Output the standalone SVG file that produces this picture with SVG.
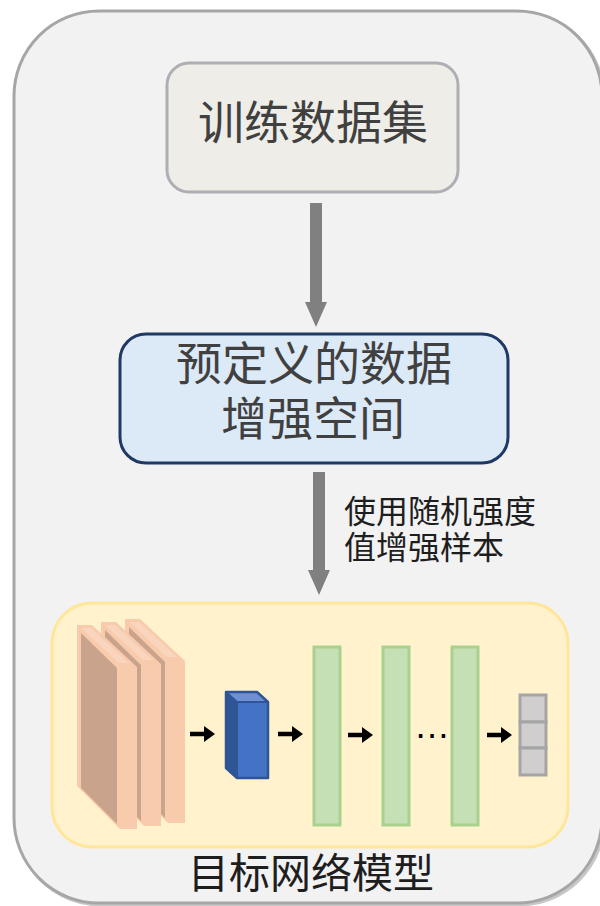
<svg xmlns="http://www.w3.org/2000/svg" width="600" height="906" viewBox="0 0 600 906">
  <style>
    .cjk { font-family: "Noto Sans CJK SC", "Noto Sans", sans-serif; }
    .boxtxt { font-size: 46px; fill: #404040; text-anchor: middle; }
    .lbl { font-size: 32px; fill: #1e1e1e; }
    .cap { font-size: 41px; fill: #1e1e1e; text-anchor: middle; }
    .bigarrow { fill: #808080; }
    .smallarrow { fill: #000000; }
    .slab-front { fill: #f8cbad; }
    .slab-side { fill: #c9a38b; }
    .slab-top { fill: #fad5be; }
    .green { fill: #c5e0b4; stroke: #a9d18e; stroke-width: 3; }
    .grey { fill: #d0cece; stroke: #a5a5a5; stroke-width: 3; }
  </style>
  <defs>
    <g id="slab">
      <polygon class="slab-front" points="0,0 15,0 60,42 60,204 43,204 0,161"/>
      <polygon class="slab-side" points="4,8 40,43 40,199 4,163"/>
      <polygon class="slab-top" points="4,3 14,3 52,38 42,38"/>
    </g>
    <g id="sarrow">
      <polygon class="smallarrow" points="0,-2.2 14,-2.2 14,-8 25,0 14,8 14,2.2 0,2.2"/>
    </g>
  </defs>

  <g id="container">
    <rect x="16" y="13" width="588" height="892" rx="85" fill="none" stroke="#c8c8c8" stroke-width="3"/>
    <rect x="14" y="11" width="588" height="892" rx="85" fill="#f2f2f2" stroke="#a6a6a6" stroke-width="3"/>
  </g>

  <g id="training-set">
    <rect x="167" y="63" width="291" height="129" rx="22" fill="#eeede7" stroke="#aeaeb4" stroke-width="3"/>
    <text class="cjk boxtxt" x="313" y="139">训练数据集</text>
  </g>

  <g id="aug-space">
    <rect x="120" y="334" width="388" height="129" rx="26" fill="#dce9f6" stroke="#1f3864" stroke-width="3"/>
    <text class="cjk boxtxt" x="314" y="380">预定义的数据</text>
    <text class="cjk boxtxt" x="313" y="435">增强空间</text>
  </g>

  <g id="aug-label">
    <text class="cjk lbl" x="344" y="523">使用随机强度</text>
    <text class="cjk lbl" x="344" y="559">值增强样本</text>
  </g>

  <g id="target-model">
    <rect x="52" y="603" width="516" height="244" rx="40" fill="#fff2cc" stroke="#ffe699" stroke-width="3"/>
    <g id="input-slabs">
      <use href="#slab" x="125" y="619"/>
      <use href="#slab" x="101" y="622"/>
      <use href="#slab" x="77" y="625"/>
    </g>
    <g id="conv-block">
      <polygon points="226,692 237,702 237,778 226,768" fill="#2f5597"/>
      <polygon points="226,692 257,692 268,702 237,702" fill="#6f8fd3"/>
      <polygon points="237,702 268,702 268,778 237,778" fill="#4472c4"/>
      <polygon points="226,692 257,692 268,702 268,778 237,778 226,768" fill="none" stroke="#2f5597" stroke-width="2.5" stroke-linejoin="round"/>
      <polyline points="226,692 237,702 268,702 M237,702" fill="none" stroke="#2f5597" stroke-width="2"/>
      <line x1="237" y1="702" x2="237" y2="778" stroke="#2f5597" stroke-width="2"/>
    </g>
    <g id="fc1"><rect class="green" x="314" y="647" width="26" height="178"/></g>
    <g id="fc2"><rect class="green" x="383" y="647" width="26" height="178"/></g>
    <g id="fc3"><rect class="green" x="452" y="647" width="26" height="178"/></g>
    <text x="432" y="738" font-family="Liberation Sans, Arial, sans-serif" font-size="36" fill="#000" text-anchor="middle">…</text>
    <g id="output">
      <rect class="grey" x="520" y="695" width="26" height="27"/>
      <rect class="grey" x="520" y="722" width="26" height="26"/>
      <rect class="grey" x="520" y="748" width="26" height="27"/>
    </g>
    <text class="cjk cap" x="311" y="888">目标网络模型</text>
  </g>

  <g id="connectors">
    <polygon class="bigarrow" points="310,203 322,203 322,302 327,302 316,327 305,302 310,302"/>
    <polygon class="bigarrow" points="313,472 325,472 325,570 330,570 319,595 308,570 313,570"/>
    <use href="#sarrow" x="190" y="734"/>
    <use href="#sarrow" x="278" y="734"/>
    <use href="#sarrow" x="348" y="735"/>
    <use href="#sarrow" x="487" y="735"/>
  </g>
</svg>
